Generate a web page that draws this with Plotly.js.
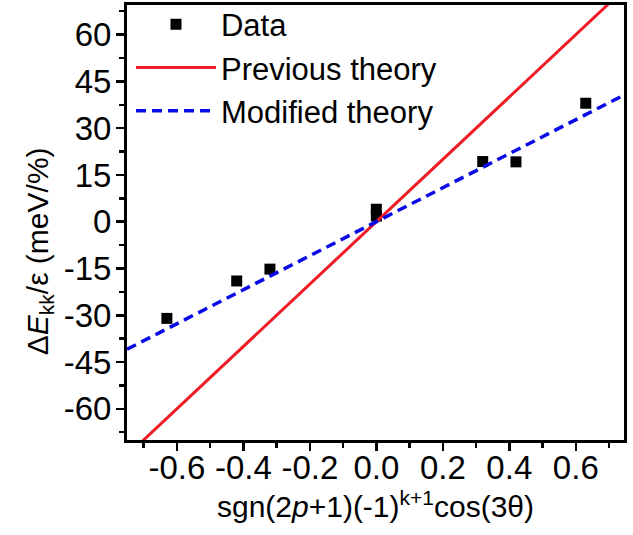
<!DOCTYPE html>
<html>
<head>
<meta charset="utf-8">
<script src="https://cdn.plot.ly/plotly-3.0.1.min.js"></script>
<style>html,body{margin:0;padding:0;background:#fff;}#chart{width:633px;height:535px;}</style>
</head>
<body>
<div id="chart"></div>
<script>
// Measured data points
var dataX = [-0.63, -0.42, -0.32, 0.0, 0.0, 0.32, 0.42, 0.63];
var dataY = [-31, -19, -15.2, 4.0, 1.8, 19.3, 19.2, 38];

// Theory lines (endpoints spanning the x range)
var lineX = [-0.75, 0.75];
var previousY = [-75, 75];
var modifiedY = [-40.9, 40.9];

// Tick labels
var xTickVals = [-0.6, -0.4, -0.2, 0.0, 0.2, 0.4, 0.6];
var xTickText = ['-0.6', '-0.4', '-0.2', '0.0', '0.2', '0.4', '0.6'];
var yTickVals = [-60, -45, -30, -15, 0, 15, 30, 45, 60];
var yTickText = ['-60', '-45', '-30', '-15', '0', '15', '30', '45', '60'];

var seriesNames = ['Data', 'Previous theory', 'Modified theory'];
var xTitle = 'sgn(2<i>p</i>+1)(-1)<sup>k+1</sup>cos(3θ)';
var yTitle = 'Δ<i>E</i><sub>kk</sub>/ε (meV/%)';

var FONT = 'Liberation Sans, Arial, sans-serif';

var traces = [
  {x: dataX, y: dataY, type: 'scatter', mode: 'markers', name: seriesNames[0],
   marker: {symbol: 'square', size: 11, color: '#000000'}},
  {x: lineX, y: previousY, type: 'scatter', mode: 'lines', name: seriesNames[1],
   line: {color: '#ee1c24', width: 3}},
  {x: lineX, y: modifiedY, type: 'scatter', mode: 'lines', name: seriesNames[2],
   line: {color: '#0a0ae6', width: 3.5, dash: '10px,6px'}}
];

var axisCommon = {
  showline: true, linecolor: '#000', linewidth: 3, mirror: true,
  ticks: 'outside', ticklen: 8, tickwidth: 2.5, tickcolor: '#000',
  showgrid: false, zeroline: false,
  tickfont: {family: FONT, size: 33, color: '#000'}
};

var layout = {
  width: 633, height: 535,
  margin: {l: 127, r: 9, t: 5, b: 95, autoexpand: false},
  paper_bgcolor: '#fff', plot_bgcolor: '#fff',
  font: {family: FONT, color: '#000'},
  showlegend: true,
  legend: {x: 0.008, y: 1.017, xanchor: 'left', yanchor: 'top',
           bgcolor: 'rgba(0,0,0,0)', font: {family: FONT, size: 31, color: '#000'},
           itemwidth: 80, tracegroupgap: 0},
  xaxis: Object.assign({}, axisCommon, {
    range: [-0.75, 0.745], tickmode: 'array', tickvals: xTickVals, ticktext: xTickText,
    ticklabelstandoff: -12,
    minor: {dtick: 0.1, tick0: 0, ticks: 'outside', ticklen: 5, tickwidth: 2.5, tickcolor: '#000', showgrid: false},
    title: {text: xTitle, font: {family: FONT, size: 30, color: '#000'}, standoff: 6}
  }),
  yaxis: Object.assign({}, axisCommon, {
    range: [-70, 69.5], tickmode: 'array', tickvals: yTickVals, ticktext: yTickText,
    ticklabelstandoff: -2,
    minor: {dtick: 7.5, tick0: 0, ticks: 'outside', ticklen: 5, tickwidth: 2.5, tickcolor: '#000', showgrid: false}
  }),
  annotations: [{
    text: yTitle, xref: 'paper', yref: 'paper', x: -0.177, y: 0.434,
    xanchor: 'center', yanchor: 'middle', textangle: -90, showarrow: false,
    font: {family: FONT, size: 30, color: '#000'}
  }]
};

Plotly.newPlot('chart', traces, layout, {displayModeBar: false, staticPlot: true});
</script>
</body>
</html>
